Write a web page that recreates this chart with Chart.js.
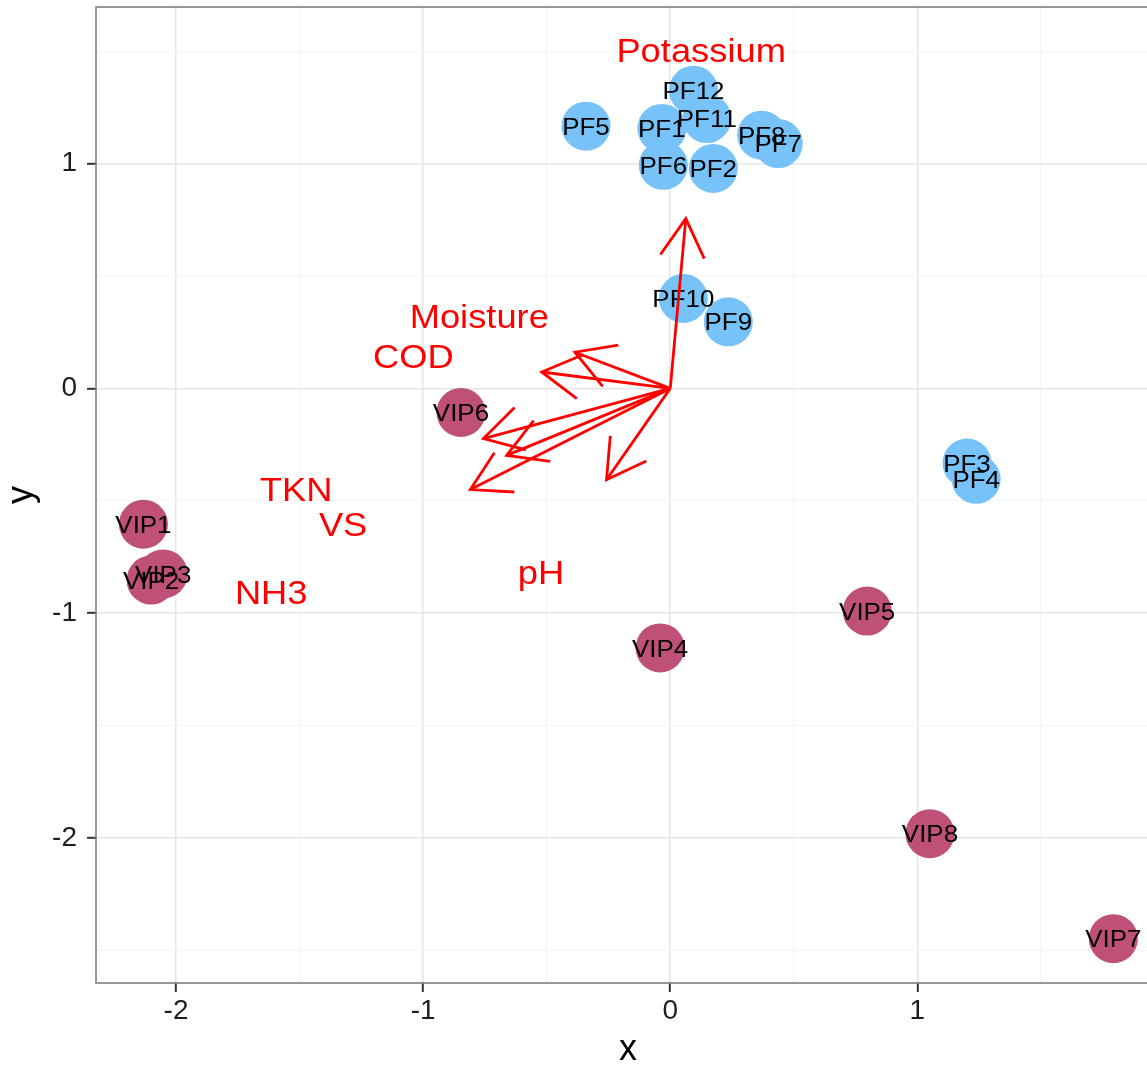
<!DOCTYPE html>
<html>
<head>
<meta charset="utf-8">
<script src="https://cdn.jsdelivr.net/npm/chart.js@4.4.1/dist/chart.umd.min.js"></script>
<style>
  html, body { margin: 0; padding: 0; background: #fff; overflow: hidden; }
  #wrap { width: 1162px; height: 1067px; }
</style>
</head>
<body>
<div id="wrap"><canvas id="chart" width="1162" height="1067"></canvas></div>
<script>
// samples (scores)
const sampleNames = ['PF1', 'PF2', 'PF3', 'PF4', 'PF5', 'PF6', 'PF7', 'PF8', 'PF9', 'PF10', 'PF11', 'PF12',
                     'VIP1', 'VIP2', 'VIP3', 'VIP4', 'VIP5', 'VIP6', 'VIP7', 'VIP8'];
const sampleX = [-0.034, 0.174, 1.201, 1.238, -0.341, -0.028, 0.437, 0.370, 0.235, 0.053, 0.148, 0.094,
                 -2.132, -2.101, -2.052, -0.041, 0.797, -0.847, 1.793, 1.051];
const sampleY = [1.156, 0.978, -0.332, -0.404, 1.166, 0.992, 1.089, 1.126, 0.296, 0.400, 1.200, 1.326,
                 -0.604, -0.852, -0.825, -1.154, -0.990, -0.107, -2.447, -1.980];
const sampleGroup = ['PF', 'PF', 'PF', 'PF', 'PF', 'PF', 'PF', 'PF', 'PF', 'PF', 'PF', 'PF',
                     'VIP', 'VIP', 'VIP', 'VIP', 'VIP', 'VIP', 'VIP', 'VIP'];

// variables (loadings)
const varNames = ['Potassium', 'Moisture', 'COD', 'TKN', 'VS', 'NH3', 'pH'];
const arrowX = [0.063, -0.386, -0.520, -0.756, -0.662, -0.809, -0.258];
const arrowY = [0.755, 0.161, 0.073, -0.223, -0.298, -0.450, -0.406];
const varLabelX = [0.125, -0.773, -1.040, -1.514, -1.324, -1.615, -0.523];
const varLabelY = [1.503, 0.321, 0.144, -0.448, -0.603, -0.905, -0.816];

const xTickLabels = [-2, -1, 0, 1];
const yTickLabels = [-2, -1, 0, 1];

const groupColors = { PF: '#77C2F9', VIP: '#BF5077' };
const FONT = "'Liberation Sans', Arial, Helvetica, sans-serif";

const isMajor = v => Number.isInteger(Math.round(v * 1000) / 1000);

const gridOpts = {
  color: c => (c.tick && isMajor(c.tick.value)) ? '#e6e6e6' : '#f4f4f4',
  lineWidth: c => (c.tick && isMajor(c.tick.value)) ? 1.6 : 1.1,
  tickColor: c => (c.tick && isMajor(c.tick.value)) ? '#333333' : 'rgba(0,0,0,0)',
  tickWidth: 2,
  tickLength: 9,
  drawTicks: true
};

const arrowSets = varNames.map((name, i) => ({
  label: name,
  data: [{ x: 0, y: 0 }, { x: arrowX[i], y: arrowY[i] }],
  showLine: true,
  borderColor: '#FF0000',
  borderWidth: 2.8,
  pointRadius: 0,
  pointHoverRadius: 0,
  order: 1
}));

const biplotLayer = {
  id: 'biplotLayer',
  afterDatasetDraw(chart, args) {
    if (args.index !== 0) return;
    const { ctx, scales: { x, y } } = chart;
    ctx.save();
    ctx.font = '24px ' + FONT;
    ctx.fillStyle = '#000';
    ctx.textAlign = 'center';
    ctx.textBaseline = 'alphabetic';
    sampleNames.forEach((n, i) => {
      ctx.save();
      ctx.translate(x.getPixelForValue(sampleX[i]), y.getPixelForValue(sampleY[i]) + 0.358 * 24);
      ctx.scale(1.08, 1);
      ctx.fillText(n, 0, 0);
      ctx.restore();
    });
    ctx.restore();
  },
  afterDatasetsDraw(chart) {
    const { ctx, chartArea: a, scales: { x, y } } = chart;
    ctx.save();
    // arrow heads
    ctx.strokeStyle = '#FF0000';
    ctx.lineWidth = 2.8;
    ctx.lineCap = 'butt';
    const ox = x.getPixelForValue(0), oy = y.getPixelForValue(0);
    varNames.forEach((n, i) => {
      const tx = x.getPixelForValue(arrowX[i]), ty = y.getPixelForValue(arrowY[i]);
      const ang = Math.atan2(oy - ty, ox - tx);
      const len = 44, spread = Math.PI / 6;
      ctx.beginPath();
      ctx.moveTo(tx + len * Math.cos(ang - spread), ty + len * Math.sin(ang - spread));
      ctx.lineTo(tx, ty);
      ctx.lineTo(tx + len * Math.cos(ang + spread), ty + len * Math.sin(ang + spread));
      ctx.stroke();
    });
    // variable labels
    ctx.font = '33px ' + FONT;
    ctx.fillStyle = '#FF0000';
    ctx.textAlign = 'center';
    ctx.textBaseline = 'alphabetic';
    varNames.forEach((n, i) => {
      ctx.save();
      ctx.translate(x.getPixelForValue(varLabelX[i]), y.getPixelForValue(varLabelY[i]) + 0.358 * 33);
      ctx.scale(1.1, 1);
      ctx.fillText(n, 0, 0);
      ctx.restore();
    });
    // panel border
    ctx.strokeStyle = '#808080';
    ctx.lineWidth = 1.6;
    ctx.strokeRect(a.left, a.top, a.right - a.left, a.bottom - a.top);
    ctx.restore();
  }
};

new Chart(document.getElementById('chart'), {
  type: 'scatter',
  data: {
    datasets: [{
      label: 'samples',
      data: sampleNames.map((n, i) => ({ x: sampleX[i], y: sampleY[i] })),
      pointRadius: 24.5,
      pointHoverRadius: 24.5,
      pointBorderWidth: 0,
      pointBackgroundColor: sampleGroup.map(g => groupColors[g]),
      pointBorderColor: sampleGroup.map(g => groupColors[g]),
      order: 2
    }, ...arrowSets]
  },
  options: {
    responsive: false,
    animation: false,
    events: [],
    layout: { autoPadding: false, padding: { top: 7, right: 2, left: 0, bottom: 0 } },
    plugins: {
      legend: { display: false },
      tooltip: { enabled: false }
    },
    scales: {
      x: {
        type: 'linear',
        min: -2.324,
        max: 1.982,
        afterFit: s => { s.height = 84; s.paddingLeft = 0; s.paddingRight = 0; },
        border: { display: false },
        grid: gridOpts,
        ticks: {
          stepSize: 0.5,
          includeBounds: false,
          autoSkip: false,
          maxRotation: 0,
          minRotation: 0,
          padding: 2,
          color: '#1e1e1e',
          font: { family: FONT, size: 28 },
          callback: v => xTickLabels.includes(v) ? String(v) : ''
        },
        title: {
          display: true,
          text: 'x',
          color: '#000',
          padding: { top: 0, bottom: 0 },
          font: { family: FONT, size: 36, lineHeight: 0.95 }
        }
      },
      y: {
        type: 'linear',
        min: -2.644,
        max: 1.696,
        afterFit: s => { s.width = 96; s.paddingTop = 0; s.paddingBottom = 0; },
        border: { display: false },
        grid: gridOpts,
        ticks: {
          stepSize: 0.5,
          includeBounds: false,
          autoSkip: false,
          padding: 10,
          color: '#1e1e1e',
          font: { family: FONT, size: 28 },
          callback: v => yTickLabels.includes(v) ? String(v) : ''
        },
        title: {
          display: true,
          text: 'y',
          color: '#000',
          padding: { top: 0, bottom: 0 },
          font: { family: FONT, size: 36, lineHeight: 1.2 }
        }
      }
    }
  },
  plugins: [biplotLayer]
});
</script>
</body>
</html>
